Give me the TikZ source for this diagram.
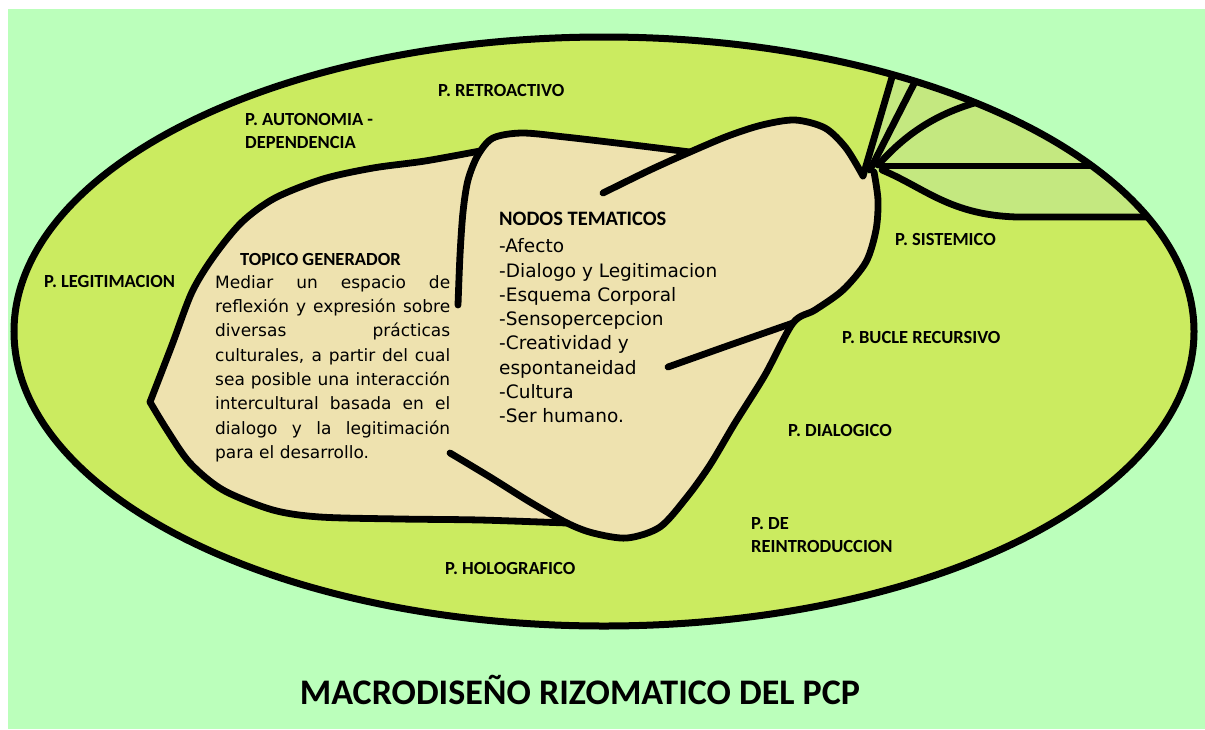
\documentclass[tikz,border=0pt]{standalone}
\usepackage{fontspec}
\setmainfont{Carlito}
\newfontfamily\bodyfont{DejaVu Sans}
\definecolor{bgc}{HTML}{BBFFBB}
\definecolor{ellc}{HTML}{CBEB60}
\definecolor{beigec}{HTML}{EEE2AF}
\definecolor{wedgec}{HTML}{C4E880}
\newcommand\jline[1]{\makebox[235pt][s]{#1}}
\tikzset{
  lab/.style={font=\fontsize{18.5}{22}\selectfont\bfseries, inner sep=0pt, anchor=base west},
  stroke/.style={draw=black, line width=6.8pt, line cap=round, line join=round},
}
\begin{document}
\begin{tikzpicture}[x=1pt,y=-1pt]
\useasboundingbox (0,0) rectangle (1205,729);
\fill[white] (0,0) rectangle (1205,729);
\fill[bgc] (8,9) rectangle (1205,729);
\fill[ellc] (604,331.5) ellipse [x radius=590pt, y radius=294.5pt];
% wedges
\begin{scope}
\clip (604,331.5) ellipse [x radius=590pt, y radius=294.5pt];
\fill[wedgec] (863,176) -- (900,50) -- (1210,50) -- (1210,217) -- (1017,217)
   .. controls (950,215) and (925,188) .. (886,170) -- cycle;
\end{scope}
% beige region
\fill[beigec] plot[smooth] coordinates {(150,402) (172,345) (192,292) (214,256) (242,222) (275,198) (323,179) (373,168) (425,161) (480,151)}
  -- plot[smooth] coordinates {(480,151) (493,138) (522,133) (565,137) (625,144) (690,152)}
  -- plot[smooth] coordinates {(690,152) (728,136) (762,125) (795,120) (825,128) (846,148) (863,176)}
  -- (874,172)
  -- plot[smooth] coordinates {(874,172) (878,200) (876,230) (866,262) (843,290) (815,310) (793,323) (765,375) (735,423) (710,465) (687,497) (660,527) (627,538) (593,533) (567,523)}
  -- plot[smooth] coordinates {(567,523) (480,520) (400,519) (320,517) (273,510) (223,490) (190,463) (167,430) (150,402)}
  -- cycle;
% strokes
\draw[stroke] plot[smooth] coordinates {(150,402) (172,345) (192,292) (214,256) (242,222) (275,198) (323,179) (373,168) (425,161) (480,151)};
\draw[stroke] plot[smooth] coordinates {(150,402) (167,430) (190,463) (223,490) (273,510) (320,517) (400,519) (480,520) (567,523)};
\draw[stroke] plot[smooth] coordinates {(458,305) (460,255) (463,212) (468,180) (478,155) (493,138) (522,133) (565,137) (625,144) (690,152)};
\draw[stroke] plot[smooth] coordinates {(603,193) (650,170) (690,152) (728,136) (762,125) (795,120) (825,128) (846,148) (863,176)};
\draw[stroke] plot[smooth] coordinates {(874,172) (878,200) (876,230) (866,262) (843,290) (815,310) (793,323) (765,375) (735,423) (710,465) (687,497) (660,527) (627,538) (593,533) (567,523) (530,502) (490,477) (450,453)};
\draw[stroke] plot[smooth] coordinates {(668,367) (730,345) (793,323)};
% fan lines
\begin{scope}
\clip (604,331.5) ellipse [x radius=590pt, y radius=294.5pt];
\draw[stroke] (863,176) -- (900,50);
\draw[stroke] (870,170) -- (921,70);
\draw[stroke] (878,165) .. controls (905,135) and (935,113) .. (985,100);
\draw[stroke] (882,166) -- (1100,166);
\draw[stroke] (882,170) .. controls (925,188) and (950,215) .. (1017,217) -- (1160,217);
\end{scope}
\draw[line width=7pt] (604,331.5) ellipse [x radius=590pt, y radius=294.5pt];
% labels
\node[lab] (retro) at (438,96) {P. RETROACTIVO};
\node[lab] (auto1) at (245,125) {P. AUTONOMIA -};
\node[lab] (auto2) at (245,148) {DEPENDENCIA};
\node[lab] (legit) at (44,287) {P. LEGITIMACION};
\node[lab] (sist) at (895,245) {P. SISTEMICO};
\node[lab] (bucle) at (842,343) {P. BUCLE RECURSIVO};
\node[lab] (dialog) at (788,436) {P. DIALOGICO};
\node[lab] (reint1) at (751,529) {P. DE};
\node[lab] (reint2) at (751,552) {REINTRODUCCION};
\node[lab] (holo) at (445,574) {P. HOLOGRAFICO};
\node[lab] (topic) at (240,265) {TOPICO GENERADOR};
\node[lab, font=\fontsize{20.5}{24}\selectfont\bfseries] (nodos) at (499,225) {NODOS TEMATICOS};
\node[inner sep=0pt, anchor=base west] (topicbody) at (215,288.3) {\parbox[t]{240pt}{\bodyfont\fontsize{17}{24.3}\selectfont\parindent=0pt
\jline{Mediar un espacio de}\\
\jline{reflexión y expresión sobre}\\
\jline{diversas prácticas}\\
\jline{culturales, a partir del cual}\\
\jline{sea posible una interacción}\\
\jline{intercultural basada en el}\\
\jline{dialogo y la legitimación}\\
para el desarrollo.}};
\node[inner sep=0pt, anchor=base west] (nodoslist) at (499,252.7) {\parbox[t]{260pt}{\bodyfont\fontsize{18.5}{24.3}\selectfont\parindent=0pt\raggedright
-Afecto\\
-Dialogo y Legitimacion\\
-Esquema Corporal\\
-Sensopercepcion\\
-Creatividad y\\
espontaneidad\\
-Cultura\\
-Ser humano.}};
\node[inner sep=0pt, anchor=base, font=\fontsize{36}{40}\selectfont\bfseries] (title) at (580,704) {MACRODISEÑO RIZOMATICO DEL PCP};
\end{tikzpicture}
\end{document}
